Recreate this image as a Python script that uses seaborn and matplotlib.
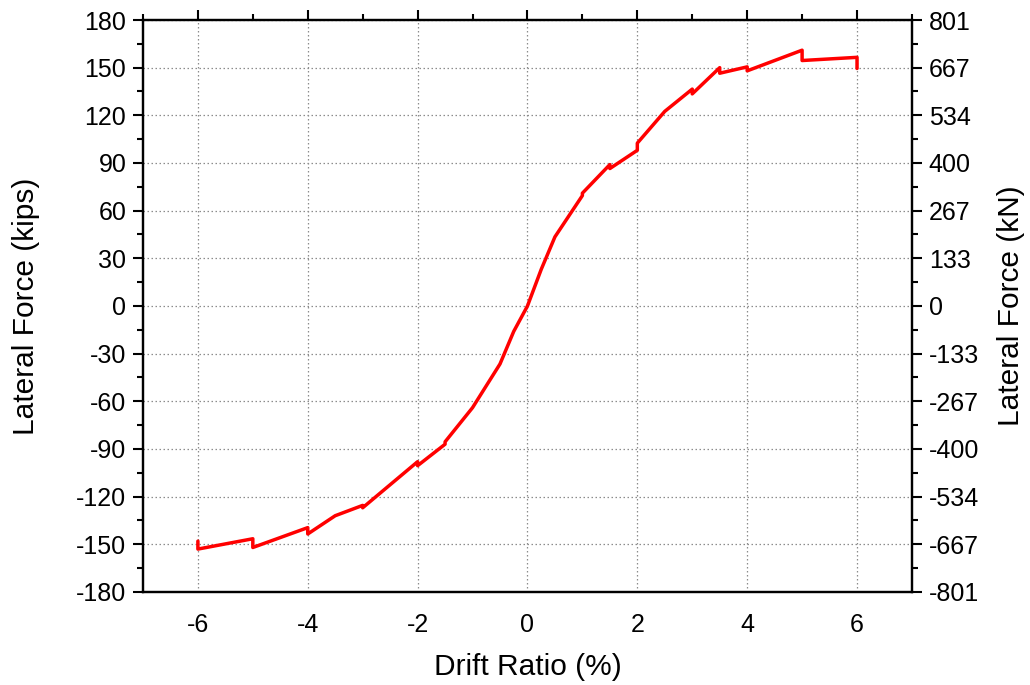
import matplotlib
matplotlib.use("Agg")
import matplotlib.pyplot as plt
from matplotlib.ticker import MultipleLocator
import numpy as np
import pandas as pd
import seaborn as sns

# Backbone curve: drift ratio (%) vs lateral force (kips)
drift = [-6, -6, -5, -5, -4, -4, -3.5, -3, -3, -2.5, -2, -2, -1.5, -1.5, -1,
         -0.5, -0.25, 0, 0.25, 0.5, 1, 1, 1.5, 1.5, 2, 2, 2.5, 3, 3, 3.5, 3.5,
         4, 4, 5, 5, 6, 6]
force_kips = [-148, -153, -146.5, -152, -139.5, -143.5, -132, -125.5, -127,
              -112.5, -98, -100.5, -87, -85.5, -64, -36.5, -16, 0, 23, 43.5,
              69.5, 71, 89, 86.5, 98, 102.5, 122.5, 136.5, 133.5, 150, 146.5,
              150.5, 148, 161, 154.5, 156.5, 149.5]

y_ticks_kips = [-180, -150, -120, -90, -60, -30, 0, 30, 60, 90, 120, 150, 180]
y_ticks_kn = ["-801", "-667", "-534", "-400", "-267", "-133", "0",
              "133", "267", "400", "534", "667", "801"]
x_ticks = [-6, -4, -2, 0, 2, 4, 6]

df = pd.DataFrame({"drift": drift, "force": force_kips})

sns.set_style("white")
plt.rcParams["font.family"] = ["Liberation Sans", "DejaVu Sans"]
plt.rcParams["axes.unicode_minus"] = False
plt.rcParams["text.color"] = "black"
plt.rcParams["axes.labelcolor"] = "black"

fig = plt.figure(figsize=(10.3, 6.85), dpi=100)
ax = fig.add_axes([0.1388, 0.1358, 0.8854 - 0.1388, 0.9708 - 0.1358])

sns.lineplot(data=df, x="drift", y="force", sort=False, estimator=None,
             color="#ff0000", linewidth=2.5, ax=ax)

ax.set_xlim(-7, 7)
ax.set_ylim(-180, 180)
ax.set_xticks(x_ticks)
ax.set_yticks(y_ticks_kips)
ax.xaxis.set_minor_locator(MultipleLocator(1))
ax.yaxis.set_minor_locator(MultipleLocator(15))

ax.grid(True, which="major", linestyle=(0, (1.2, 2.0)), color="#8c8c8c",
        linewidth=0.9)
ax.set_axisbelow(True)

for s in ax.spines.values():
    s.set_visible(True)
    s.set_color("black")
    s.set_linewidth(1.6)

ax.tick_params(axis="both", which="major", direction="out", length=7,
               width=1.5, labelsize=18, colors="black", labelcolor="black",
               pad=5)
ax.tick_params(axis="both", which="minor", direction="out", length=4,
               width=1.5, colors="black")
ax.tick_params(axis="x", which="both", top=True, labeltop=False)
ax.tick_params(axis="x", which="major", pad=8)

ax.set_xlabel("Drift Ratio (%)", fontsize=21.5, labelpad=12)
ax.set_ylabel("Lateral Force (kips)", fontsize=21.5, labelpad=26)

# Secondary axis in kN on the right
ax2 = ax.twinx()
ax2.set_ylim(ax.get_ylim())
ax2.set_yticks(y_ticks_kips)
ax2.set_yticklabels(y_ticks_kn)
ax2.yaxis.set_minor_locator(MultipleLocator(15))
ax2.tick_params(axis="y", which="major", direction="out", length=7,
                width=1.5, labelsize=18, colors="black", labelcolor="black",
                pad=5)
ax2.tick_params(axis="y", which="minor", direction="out", length=4,
                width=1.5, colors="black")
for s in ax2.spines.values():
    s.set_visible(True)
    s.set_color("black")
    s.set_linewidth(1.6)
ax2.grid(False)
ax2.set_ylabel("Lateral Force (kN)", fontsize=21.5, labelpad=13)

fig.savefig("out.png", dpi=100, facecolor="white")
